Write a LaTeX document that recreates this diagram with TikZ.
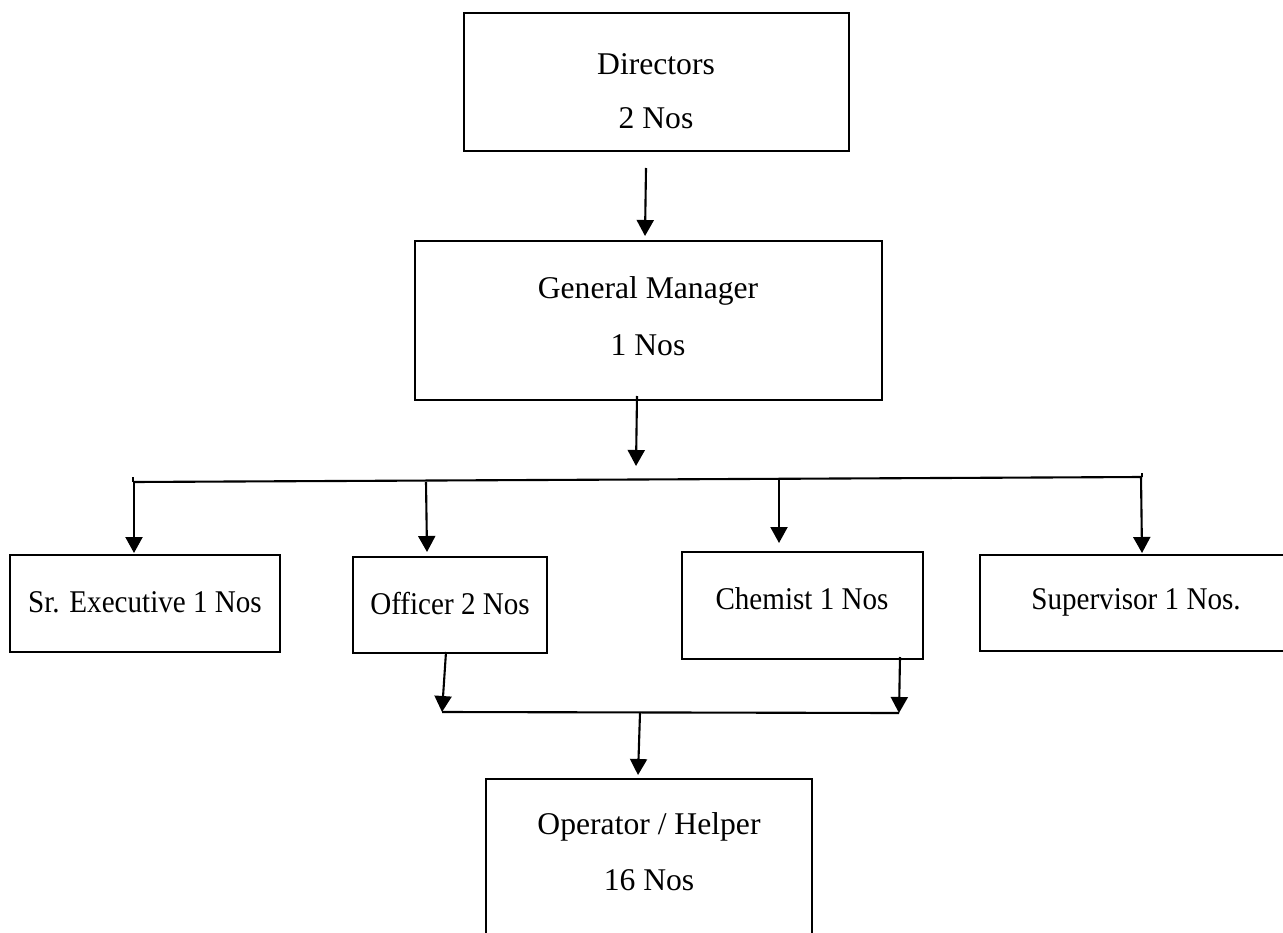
\documentclass[tikz,border=0pt]{standalone}
\usepackage{fontspec}
\setmainfont{Liberation Serif}
\newfontfamily\narrowserif{Liberation Serif}[FakeStretch=0.92]
\usetikzlibrary{positioning,arrows.meta}

\begin{document}
\begin{tikzpicture}[
  x=0.02cm, y=-0.02cm,
  box/.style={draw, line width=1.2pt, inner sep=0pt},
  txt/.style={font=\fontsize{18}{22}\selectfont, inner sep=0pt},
  rowtxt/.style={font=\fontsize{18}{22}\narrowserif, inner sep=0pt},
  arr/.style={-{Triangle[length=0.32cm, width=0.34cm]}, line width=1.2pt},
  bus/.style={line width=1.2pt}
]
\clip (0,0) rectangle (1283,932);
\fill[white] (0,0) rectangle (1283,932);
% boxes
\node[box, minimum width=7.7cm, minimum height=2.76cm] (dir) at (656.5,82) {};
\node[box, minimum width=9.34cm, minimum height=3.18cm] (gm) at (648.5,320.5) {};
\node[box, minimum width=5.4cm, minimum height=1.94cm] (exe) at (145,603.5) {};
\node[box, minimum width=3.88cm, minimum height=1.92cm] (off) at (450,605) {};
\node[box, minimum width=4.82cm, minimum height=2.14cm] (chem) at (802.5,605.5) {};
\node[box, minimum width=6.2cm, minimum height=1.92cm] (sup) at (1135,603) {};
\node[box, minimum width=6.52cm, minimum height=3.62cm] (opr) at (649,869.5) {};
% texts
\node[txt] (dirA) at (656,64) {Directors};
\node[txt] (dirB) at (656,118) {2 Nos};
\node[txt] (gmA) at (648,291) {General Manager};
\node[txt] (gmB) at (648,345) {1 Nos};
\node[rowtxt] (exeA) at (145,602) {Sr. Executive 1 Nos};
\node[rowtxt] (offA) at (450,604) {Officer 2 Nos};
\node[rowtxt] (chemA) at (802,599) {Chemist 1 Nos};
\node[rowtxt] (supA) at (1136,602) {Supervisor 1 Nos.};
\node[txt] (oprA) at (649,827) {Operator / Helper};
\node[txt] (oprB) at (649,880) {16 Nos};
% connector ends
\coordinate (dirS) at (646,168);
\coordinate (gmN) at (645,236);
\coordinate (gmS) at (637,396);
\coordinate (busT) at (636,466);
\coordinate (busL) at (133,482);
\coordinate (busR) at (1142,477);
\coordinate (exeS) at (134,482);
\coordinate (exeN) at (134,553);
\coordinate (offS) at (426,482);
\coordinate (offN) at (427,552);
\coordinate (chemS) at (779,480);
\coordinate (chemN) at (779,543);
\coordinate (supS) at (1141,477);
\coordinate (supN) at (1142,553);
\coordinate (offB) at (446,652);
\coordinate (lowL) at (442,712);
\coordinate (chemB) at (900,657);
\coordinate (lowR) at (899,713);
\coordinate (lowS) at (640,713);
\coordinate (oprN) at (638,775);
% connectors
\draw[arr] (dirS) -- (gmN);
\draw[arr] (gmS) -- (busT);
\draw[bus] (busL) -- (busR);
\draw[bus] (busL) -- ++(0,-5);
\draw[bus] (busR) -- ++(0,-4);
\draw[arr] (exeS) -- (exeN);
\draw[arr] (offS) -- (offN);
\draw[arr] (chemS) -- (chemN);
\draw[arr] (supS) -- (supN);
\draw[arr] (offB) -- (lowL);
\draw[arr] (chemB) -- (lowR);
\draw[bus] (lowL) -- (lowR);
\draw[arr] (lowS) -- (oprN);
\end{tikzpicture}
\end{document}
